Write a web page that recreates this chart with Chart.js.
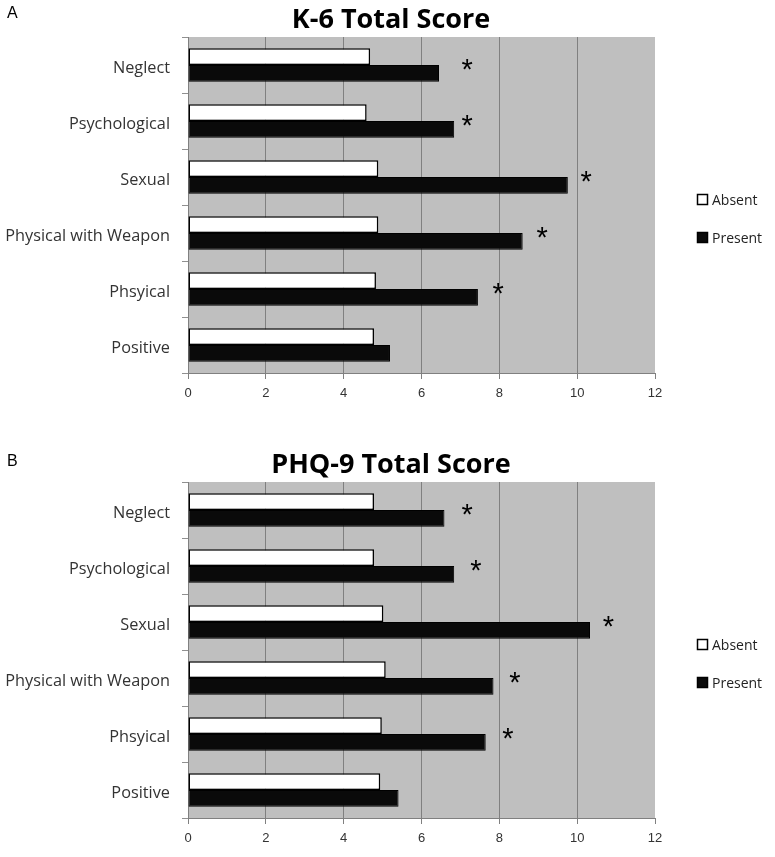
<!DOCTYPE html>
<html>
<head>
<meta charset="utf-8">
<title>K-6 and PHQ-9 Total Score</title>
<script src="https://cdn.jsdelivr.net/npm/chart.js@4.4.0/dist/chart.umd.min.js"></script>
<style>
body { margin: 0; background: #fff; }
#wrap { position: relative; width: 775px; height: 857px; }
.panel { position: absolute; left: 0; width: 775px; height: 410px; }
.tag { position: absolute; left: 7px; font-family: "Liberation Sans", Arial, sans-serif; font-size: 16px; color: #000; }
</style>
</head>
<body>
<div id="wrap">
  <div class="panel" style="top:0"><canvas id="k6" width="775" height="410"></canvas></div>
  <div class="panel" style="top:445px"><canvas id="phq" width="775" height="410"></canvas></div>
  <div class="tag" style="top:4px">A</div>
  <div class="tag" style="top:452px">B</div>
</div>
<script>
const categories = ['Neglect', 'Psychological', 'Sexual', 'Physical with Weapon', 'Phsyical', 'Positive'];
const seriesNames = ['Absent', 'Present'];
const xTicks = [0, 2, 4, 6, 8, 10, 12];

// panel A
const k6Absent = [4.68, 4.59, 4.89, 4.89, 4.83, 4.78];
const k6Present = [6.45, 6.84, 9.76, 8.60, 7.45, 5.19];
const k6Stars = [7.17, 7.17, 10.23, 9.10, 7.97, null];

// panel B
const phqAbsent = [4.78, 4.78, 5.02, 5.08, 4.98, 4.94];
const phqPresent = [6.59, 6.84, 10.33, 7.85, 7.65, 5.41];
const phqStars = [7.17, 7.40, 10.80, 8.40, 8.22, null];

const panelDecor = {
    id: 'panelDecor',
    beforeDraw(chart) {
        const { ctx, chartArea: a } = chart;
        ctx.save();
        ctx.fillStyle = '#bfbfbf';
        ctx.fillRect(a.left, a.top, a.right - a.left, a.bottom - a.top);
        ctx.restore();
    },
    afterDraw(chart, args, opts) {
        const { ctx, chartArea: a, scales } = chart;
        ctx.save();

        ctx.fillStyle = '#000';
        ctx.textAlign = 'center';
        ctx.textBaseline = 'alphabetic';
        ctx.font = 'bold 27px "Open Sans"';
        ctx.fillText(opts.title, 391, 28);

        // significance marks
        ctx.font = '29px "Liberation Sans"';
        opts.stars.forEach((v, i) => {
            if (v == null) return;
            const x = scales.x.getPixelForValue(v);
            const y = scales.y.getPixelForValue(i);
            ctx.fillText('*', x, y + 14);
        });

        // legend
        const mid = (a.top + a.bottom) / 2;
        ctx.textAlign = 'left';
        ctx.textBaseline = 'middle';
        ctx.font = '14px "Open Sans"';
        chart.data.datasets.forEach((ds, i) => {
            const y = mid - 5 + i * 38;
            ctx.fillStyle = ds.backgroundColor;
            ctx.fillRect(697.5, y - 5.5, 10, 10);
            ctx.strokeStyle = '#000';
            ctx.lineWidth = 1.5;
            ctx.strokeRect(697.5, y - 5.5, 10, 10);
            ctx.fillStyle = '#222';
            ctx.fillText(ds.label, 712, y + 1);
        });
        ctx.restore();
    }
};

function makeChart(id, absent, present, stars, title) {
    return new Chart(document.getElementById(id), {
        type: 'bar',
        data: {
            labels: categories,
            datasets: [{
                label: seriesNames[0],
                data: absent,
                backgroundColor: '#ffffff',
                borderColor: '#000000',
                borderWidth: 1.5,
                borderSkipped: false,
                categoryPercentage: 0.6,
                barPercentage: 1
            }, {
                label: seriesNames[1],
                data: present,
                backgroundColor: '#0a0a0a',
                borderColor: '#000000',
                borderWidth: 1,
                borderSkipped: false,
                categoryPercentage: 0.6,
                barPercentage: 1
            }]
        },
        options: {
            indexAxis: 'y',
            responsive: false,
            animation: false,
            devicePixelRatio: 1,
            layout: { padding: { top: 37, right: 120, bottom: 7, left: 0 } },
            plugins: {
                legend: { display: false },
                tooltip: { enabled: false },
                panelDecor: { title: title, stars: stars }
            },
            scales: {
                x: {
                    min: 0,
                    max: 12,
                    afterBuildTicks: ax => { ax.ticks = xTicks.map(v => ({ value: v })); },
                    afterFit: ax => { ax.height = 30; },
                    ticks: {
                        padding: 7,
                        color: '#333',
                        font: { family: '"Liberation Sans"', size: 13 }
                    },
                    grid: {
                        color: c => (c.tick && c.tick.value === 12) ? 'rgba(0,0,0,0)' : '#808080',
                        tickColor: '#808080',
                        tickLength: 6,
                        lineWidth: 1
                    },
                    border: { color: '#808080' }
                },
                y: {
                    afterFit: ax => { ax.width = 188; },
                    ticks: {
                        padding: 12,
                        labelOffset: 3,
                        color: '#333',
                        font: { family: '"Open Sans"', size: 16.3 }
                    },
                    grid: {
                        drawOnChartArea: false,
                        offset: true,
                        tickLength: 6,
                        color: '#909090'
                    },
                    border: { display: false }
                }
            }
        },
        plugins: [panelDecor]
    });
}

makeChart('k6', k6Absent, k6Present, k6Stars, 'K-6 Total Score');
makeChart('phq', phqAbsent, phqPresent, phqStars, 'PHQ-9 Total Score');
</script>
</body>
</html>
